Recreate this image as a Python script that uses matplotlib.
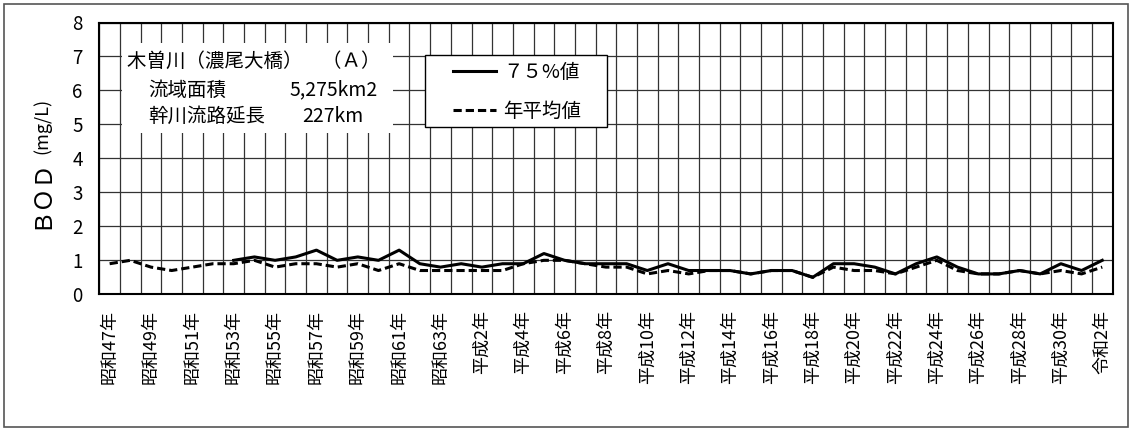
import numpy as np
import matplotlib
matplotlib.use('Agg')
import matplotlib.pyplot as plt
from matplotlib.patches import Rectangle

plt.rcParams['font.family'] = ['Noto Sans CJK JP', 'DejaVu Sans']

# data (1972 .. 2020)
years = list(range(1972, 2021))
tick_labels = ['昭和47年', '昭和49年', '昭和51年', '昭和53年', '昭和55年', '昭和57年',
               '昭和59年', '昭和61年', '昭和63年', '平成2年', '平成4年', '平成6年',
               '平成8年', '平成10年', '平成12年', '平成14年', '平成16年', '平成18年',
               '平成20年', '平成22年', '平成24年', '平成26年', '平成28年', '平成30年',
               '令和2年']
# 75% value, starts in 1978
p75 = [np.nan] * 6 + [1.0, 1.1, 1.0, 1.1, 1.3, 1.0, 1.1, 1.0, 1.3, 0.9,
                      0.8, 0.9, 0.8, 0.9, 0.9, 1.2, 1.0, 0.9, 0.9, 0.9,
                      0.7, 0.9, 0.7, 0.7, 0.7, 0.6, 0.7, 0.7, 0.5, 0.9,
                      0.9, 0.8, 0.6, 0.9, 1.1, 0.8, 0.6, 0.6, 0.7, 0.6,
                      0.9, 0.7, 1.0]
# annual mean
mean = [0.9, 1.0, 0.8, 0.7, 0.8, 0.9, 0.9, 1.0, 0.8, 0.9,
        0.9, 0.8, 0.9, 0.7, 0.9, 0.7, 0.7, 0.7, 0.7, 0.7,
        0.9, 1.0, 1.0, 0.9, 0.8, 0.8, 0.6, 0.7, 0.6, 0.7,
        0.7, 0.6, 0.7, 0.7, 0.5, 0.8, 0.7, 0.7, 0.6, 0.8,
        1.0, 0.7, 0.6, 0.6, 0.7, 0.6, 0.7, 0.6, 0.8]

W, H = 1132, 432
def fx(px):
    return px / W
def fy(py):
    return 1 - py / H

fig = plt.figure(figsize=(W / 100, H / 100), dpi=100)
fig.patches.append(Rectangle((fx(4), fy(427)), fx(1124), 423 / H, transform=fig.transFigure,
                             fill=False, edgecolor='#555555', linewidth=1.2))

ax = fig.add_axes([fx(99.3), fy(294.3), fx(1013.3), 271.8 / H])
x = np.arange(len(years))
ax.plot(x, p75, color='black', linewidth=2.2, label='７５%値', zorder=4)
ax.plot(x, mean, color='black', linewidth=2.2, linestyle=(0, (2.7, 1.3)), label='年平均値', zorder=4)

ax.set_xlim(-0.5, len(years) - 0.5)
ax.set_ylim(0, 8)
ax.set_yticks(range(0, 9))
ax.set_xticks(np.arange(0, len(years), 2))
ax.set_xticklabels(tick_labels, rotation=90, fontsize=13, va='top', ha='center')
ax.set_xticks(np.arange(-0.5, len(years), 1), minor=True)
ax.tick_params(axis='both', which='both', length=0)
ax.tick_params(axis='x', pad=11)
ax.tick_params(axis='y', pad=12, labelsize=13.5)
ax.set_axisbelow(True)
ax.grid(which='minor', axis='x', color='#333333', linewidth=0.9)
ax.grid(which='major', axis='y', color='#333333', linewidth=0.9)
for s in ax.spines.values():
    s.set_color('black')
    s.set_linewidth(1.5)

# y label
fig.text(fx(41), fy(194), 'ＢＯＤ', rotation=90, ha='center', va='center', fontsize=17)
fig.text(fx(42), fy(126), '(mg/L)', rotation=90, ha='center', va='center', fontsize=13)

# title box
ax.add_patch(Rectangle((0.0224, 0.5935), 0.2674, 0.3311, transform=ax.transAxes,
                       facecolor='white', edgecolor='none', zorder=3))
fig.text(fx(127), fy(61), '木曽川（濃尾大橋）　（Ａ）', ha='left', va='center', fontsize=14)
fig.text(fx(148), fy(90), '流域面積', ha='left', va='center', fontsize=14)
fig.text(fx(290), fy(90), '5,275km2', ha='left', va='center', fontsize=14)
fig.text(fx(148), fy(116), '幹川流路延長', ha='left', va='center', fontsize=14)
fig.text(fx(302), fy(116), '227km', ha='left', va='center', fontsize=14)

# legend box
ax.add_patch(Rectangle(((425 - 99.3) / 1013.3, (294.3 - 127) / 271.8), 182 / 1013.3, 72 / 271.8,
                       transform=ax.transAxes, facecolor='white', edgecolor='black',
                       linewidth=1.0, zorder=3))
ax.legend(loc='upper left', bbox_to_anchor=(fx(453), fy(62)), bbox_transform=fig.transFigure,
          frameon=False, borderpad=0, borderaxespad=0, fontsize=14, handlelength=2.2,
          handletextpad=0.4, labelspacing=0.9)

fig.savefig('out.png', dpi=100)
